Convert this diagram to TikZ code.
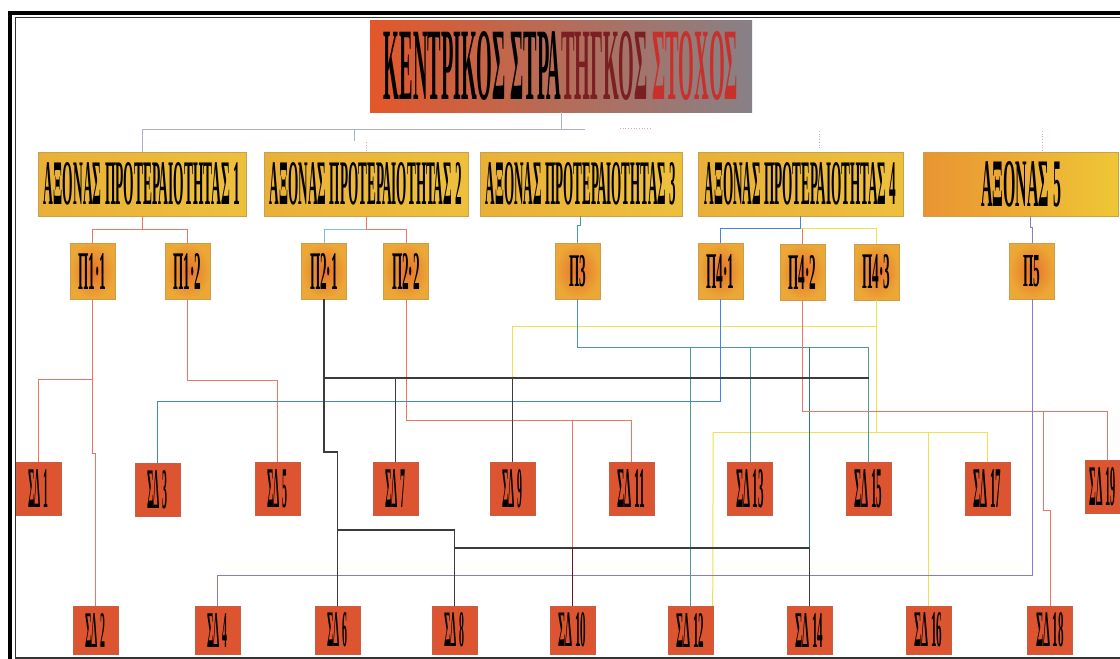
\documentclass[tikz,border=0pt]{standalone}
\usepackage{fontspec}
\setmainfont{Liberation Serif}
\usepackage{graphicx}
\usetikzlibrary{calc}
\definecolor{tleft}{HTML}{E3572A}
\definecolor{tmid}{HTML}{C9603F}
\definecolor{tright}{HTML}{878187}
\definecolor{tmaroon}{HTML}{7A1F22}
\definecolor{tred}{HTML}{C8302C}
\definecolor{ayel}{HTML}{E9B038}
\definecolor{aorg}{HTML}{E96A2A}
\definecolor{ayel2}{HTML}{EDC03C}
\definecolor{porg}{HTML}{E87028}
\definecolor{pyel}{HTML}{EBA836}
\definecolor{sdred}{HTML}{DC5530}
\definecolor{cRed}{HTML}{EE7560}
\definecolor{cBlack}{HTML}{3C3C3C}
\definecolor{cBlue}{HTML}{4285E0}
\definecolor{cLBlue}{HTML}{8AB8D8}
\definecolor{cTeal}{HTML}{4A9C96}
\definecolor{cDTeal}{HTML}{2F7D66}
\definecolor{cYel}{HTML}{EFE04C}
\definecolor{cPurp}{HTML}{8A78D6}
\definecolor{cGray}{HTML}{A9B2C4}
\definecolor{cPink}{HTML}{EDA0A8}
\newcommand{\sqz}[3]{\resizebox{#1pt}{#2pt}{\bfseries #3}}
\begin{document}
\begin{tikzpicture}[x=1pt,y=-1pt,
  titlebox/.style={minimum width=382pt,minimum height=92pt,inner sep=0pt,
    left color=tleft,middle color=tmid,right color=tright},
  axbox/.style={minimum height=64pt,inner sep=0pt,
    left color=ayel,middle color=aorg,right color=ayel2,draw=ayel!70!gray,line width=0.4pt},
  pbox/.style={minimum width=45pt,minimum height=56pt,inner sep=0pt,
    inner color=porg,outer color=pyel,draw=pyel!70!gray,line width=0.4pt},
  sdbox/.style={minimum width=45pt,minimum height=53pt,inner sep=0pt,
    fill=sdred,draw=sdred!75!gray,line width=0.4pt},
  sdlow/.style={sdbox,minimum height=48pt},
  topl/.style={draw=cGray,line width=0.8pt},
  faint/.style={draw=cPink,line width=0.7pt,dotted},
  redl/.style={draw=cRed,line width=1pt},
  blackl/.style={draw=cBlack,line width=1.3pt},
  bluel/.style={draw=cBlue,line width=1pt},
  lbluel/.style={draw=cLBlue,line width=1pt},
  teall/.style={draw=cTeal,line width=1pt},
  dteall/.style={draw=cDTeal,line width=1.6pt},
  yell/.style={draw=cYel,line width=1pt},
  purpl/.style={draw=cPurp,line width=1pt},
  maroonl/.style={draw=tmaroon!80!black,line width=1.2pt}]
\useasboundingbox (0,0) rectangle (1120,659);
\clip (0,0) rectangle (1120,659);
\fill[white] (0,0) rectangle (1120,659);
% frame
\draw[black,line width=3.2pt] (10,13) rectangle (1140,680);
\draw[black!80,line width=1.4pt] (15.5,17.5) rectangle (1135,657.8);

% title
\node[titlebox] (T) at (561,66) {\sqz{354}{68}{\color{black}ΚΕΝΤΡΙΚΟΣ ΣΤΡΑ\color{tmaroon}ΤΗΓΚΟΣ \color{tred}ΣΤΟΧΟΣ}};

% axes
\node[axbox,minimum width=208pt] (A1) at (142,184) {\sqz{196}{42}{ΑΞΟΝΑΣ ΠΡΟΤΕΡΑΙΟΤΗΤΑΣ 1}};
\node[axbox,minimum width=204pt] (A2) at (366,184) {\sqz{192}{42}{ΑΞΟΝΑΣ ΠΡΟΤΕΡΑΙΟΤΗΤΑΣ 2}};
\node[axbox,minimum width=202pt] (A3) at (581,184) {\sqz{190}{42}{ΑΞΟΝΑΣ ΠΡΟΤΕΡΑΙΟΤΗΤΑΣ 3}};
\node[axbox,minimum width=205pt] (A4) at (800.5,184) {\sqz{192}{42}{ΑΞΟΝΑΣ ΠΡΟΤΕΡΑΙΟΤΗΤΑΣ 4}};
\node[axbox,minimum width=195pt,left color=ayel!60!aorg,middle color=aorg!90!ayel,right color=ayel2!90!yellow] (A5) at (1021,184) {\sqz{80}{45}{ΑΞΟΝΑΣ 5}};

% priorities
\node[pbox] (p11) at (92.5,271) {\sqz{28}{36}{Π1·1}};
\node[pbox] (p12) at (187.5,271) {\sqz{28}{36}{Π1·2}};
\node[pbox] (p21) at (324,271) {\sqz{28}{36}{Π2·1}};
\node[pbox] (p22) at (406,271) {\sqz{28}{36}{Π2·2}};
\node[pbox] (p3) at (577.5,271) {\sqz{17}{31}{Π3}};
\node[pbox] (p41) at (720.5,271) {\sqz{28}{34}{Π4·1}};
\node[pbox] (p42) at (802.5,272) {\sqz{28}{34}{Π4·2}};
\node[pbox] (p43) at (876.5,272) {\sqz{28}{34}{Π4·3}};
\node[pbox] (p5) at (1032,271) {\sqz{17}{31}{Π5}};

% SD odd row
\node[sdbox] (sd1) at (38.5,488.5) {\sqz{20}{38}{ΣΔ 1}};
\node[sdbox] (sd3) at (157.5,490) {\sqz{20}{38}{ΣΔ 3}};
\node[sdbox] (sd5) at (277.5,488.5) {\sqz{20}{38}{ΣΔ 5}};
\node[sdbox] (sd7) at (395.5,488.5) {\sqz{20}{38}{ΣΔ 7}};
\node[sdbox] (sd9) at (512.5,488.5) {\sqz{20}{38}{ΣΔ 9}};
\node[sdbox] (sd11) at (631.5,488.5) {\sqz{28}{38}{ΣΔ 11}};
\node[sdbox] (sd13) at (750,488.5) {\sqz{28}{38}{ΣΔ 13}};
\node[sdbox] (sd15) at (868.5,488.5) {\sqz{28}{38}{ΣΔ 15}};
\node[sdbox] (sd17) at (987.5,488.5) {\sqz{28}{38}{ΣΔ 17}};
\node[sdbox,minimum width=34pt] (sd19) at (1102.5,487) {\sqz{26}{38}{ΣΔ 19}};

% SD even row
\node[sdlow] (sd2) at (95.5,630) {\sqz{20}{34}{ΣΔ 2}};
\node[sdlow] (sd4) at (217.5,630) {\sqz{20}{34}{ΣΔ 4}};
\node[sdlow] (sd6) at (337.5,630) {\sqz{20}{34}{ΣΔ 6}};
\node[sdlow] (sd8) at (454.5,630) {\sqz{20}{34}{ΣΔ 8}};
\node[sdlow] (sd10) at (572.5,630) {\sqz{28}{34}{ΣΔ 10}};
\node[sdlow] (sd12) at (690.5,630) {\sqz{28}{34}{ΣΔ 12}};
\node[sdlow] (sd14) at (809.5,630) {\sqz{28}{34}{ΣΔ 14}};
\node[sdlow] (sd16) at (928.5,630) {\sqz{28}{34}{ΣΔ 16}};
\node[sdlow] (sd18) at (1050,630) {\sqz{28}{34}{ΣΔ 18}};

% title to axes
\draw[topl] (T.south) -- (T.south |- 0,129);
\draw[topl] (A1.north) -- (A1.north |- 0,129) -- (585,129);
\draw[topl] (354,129) -- (354,141);
\draw[faint] (A2.north |- 0,142) -- (A2.north);
\draw[faint] (620,128) -- (650,128);
\draw[faint,draw=cGray] (819,131) -- (819,148);
\draw[faint] (1042,131) -- (1042,150);

% axes to priorities
\draw[redl] (A1.south) -- (A1.south |- 0,229);
\draw[redl] (p11.north) -- (p11.north |- 0,229) -- (p12.north |- 0,229) -- (p12.north);
\draw[lbluel] (A2.south |- 0,229) -| (p21.north);
\draw[redl] (A2.south) -- (A2.south |- 0,229) -| (p22.north);
\draw[teall] (A3.south) ++(-1,0) -- ++(0,9) -- ++(-2.5,0) -- (p3.north);
\draw[bluel] (A4.south) -- (A4.south |- 0,228) -| (p41.north);
\draw[redl] (A4.south |- 0,228) -| (p42.north);
\draw[yell] (A4.south |- 0,228) -| (p43.north);
\draw[purpl] (p5.north |- A5.south) ++(-2,0) -- ++(0,11) -- ++(2,0) -- (p5.north);

% yellow network
\draw[yell] (p43.south) -- (p43.south |- 0,432);
\draw[yell] (p43.south |- 0,326) -| (sd9.north |- 0,378);
\draw[yell] (sd12.north east |- 0,432) -- (sd17.north |- 0,432) -- (sd17.north);
\draw[yell] (sd12.north east |- 0,432) -- ([xshift=-0.5pt]sd12.north east);
\draw[yell] (sd16.north |- 0,432) -- (sd16.north);

% teal network
\draw[teall] (p3.south) -- (p3.south |- 0,347) -| (sd15.north);
\draw[teall] (sd12.north |- 0,347) -- (sd12.north);
\draw[teall] (sd13.north |- 0,347) -- (sd13.north);
\draw[dteall] (sd14.north |- 0,347) -- (sd14.north |- 0,548);

% red networks
\draw[redl] (p11.south) -- (p11.south |- 0,453) -| (sd2.north);
\draw[redl] (p11.south |- 0,379) -| (sd1.north);
\draw[redl] (p12.south) -- (p12.south |- 0,380) -| (sd5.north);
\draw[redl] (p22.south) -- (p22.south |- 0,420) -| (sd11.north);
\draw[redl] (sd10.north |- 0,420) -- (sd10.north |- 0,548);
\draw[redl] (p42.south) -- (p42.south |- 0,411) -- (1107,411) -- (1107,460.5);
\draw[redl] ([xshift=-7pt]sd18.north |- 0,411) -- ([xshift=-7pt]sd18.north |- 0,510) -- (sd18.north |- 0,510) -- (sd18.north);

% blue
\draw[bluel] (p41.south) -- (p41.south |- 0,401) -| (sd3.north);

% purple
\draw[purpl] (p5.south) -- (p5.south |- 0,575) -| (sd4.north);

% black network
\draw[blackl] (p21.south) -- (p21.south |- 0,378) -- (sd15.north |- 0,378);
\draw[blackl] (p21.south |- 0,378) -- (p21.south |- 0,452) -| (sd6.north);
\draw[blackl] (sd7.north |- 0,378) -- (sd7.north);
\draw[blackl] (sd9.north |- 0,378) -- (sd9.north);
\draw[blackl] (sd6.north |- 0,530) -| (sd8.north);
\draw[blackl] (sd8.north |- 0,548) -| (sd14.north);
\draw[maroonl] (sd10.north |- 0,548) -- (sd10.north);
\end{tikzpicture}
\end{document}
